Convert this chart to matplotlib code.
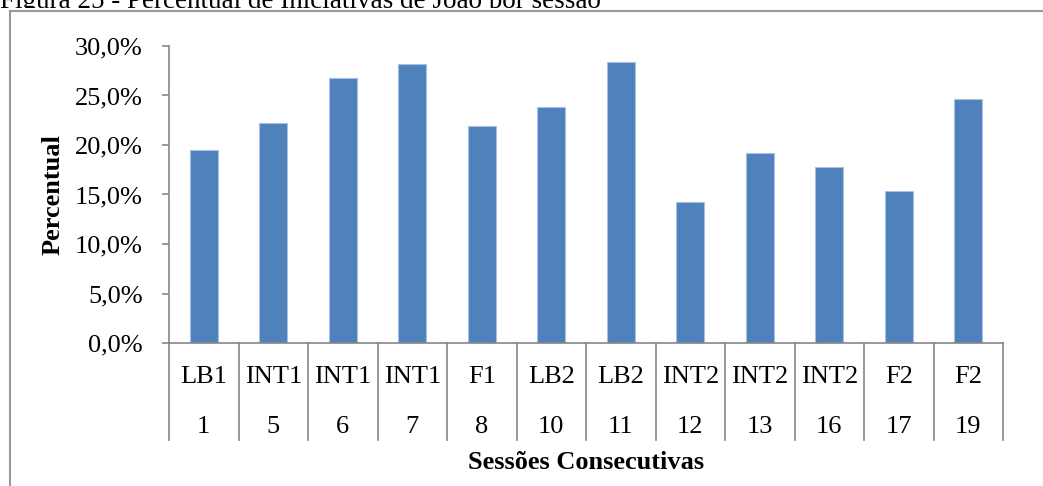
import matplotlib
matplotlib.use('Agg')
import matplotlib.pyplot as plt
from matplotlib.ticker import FuncFormatter, MultipleLocator
from matplotlib.transforms import Bbox

# sessões e percentuais de iniciativas
fases = ['LB1', 'INT1', 'INT1', 'INT1', 'F1', 'LB2', 'LB2', 'INT2', 'INT2', 'INT2', 'F2', 'F2']
sessoes = ['1', '5', '6', '7', '8', '10', '11', '12', '13', '16', '17', '19']
percentual = [19.5, 22.2, 26.8, 28.2, 21.9, 23.8, 28.4, 14.2, 19.2, 17.8, 15.4, 24.6]

plt.rcParams['font.family'] = ['Liberation Serif', 'DejaVu Serif']

W, H = 1043, 486
fig = plt.figure(figsize=(W / 100, H / 100), dpi=100)
ax = fig.add_axes([169 / W, 1 - 343 / H, (1003 - 169) / W, (343 - 46) / H])

cinza = '#868686'
x = list(range(len(percentual)))
ax.bar(x, percentual, width=0.4, color='#4F81BD', edgecolor='#A9C1E0', linewidth=0.8, zorder=2)

ax.set_xlim(-0.5, len(x) - 0.5)
ax.set_ylim(0, 30)
ax.yaxis.set_major_locator(MultipleLocator(5))
ax.yaxis.set_major_formatter(FuncFormatter(lambda v, p: f'{v:.1f}%'.replace('.', ',')))
ax.tick_params(axis='y', length=5, width=1.2, color=cinza, pad=14, labelsize=19)
ax.set_xticks([])

for s in ['top', 'right']:
    ax.spines[s].set_visible(False)
for s in ['left', 'bottom']:
    ax.spines[s].set_color(cinza)
    ax.spines[s].set_linewidth(1.2)

# tabela de rótulos abaixo do eixo x
tr = ax.get_xaxis_transform()
for i in range(len(x) + 1):
    ax.plot([i - 0.5, i - 0.5], [0, -0.327], transform=tr, color=cinza,
            linewidth=1.2, clip_on=False)
for i, (f, s) in enumerate(zip(fases, sessoes)):
    ax.text(i, -0.1145, f, transform=tr, ha='center', va='center', fontsize=19)
    ax.text(i, -0.283, s, transform=tr, ha='center', va='center', fontsize=19)

fig.text(586 / W, 1 - 462 / H, 'Sessões Consecutivas', ha='center', va='center',
         fontsize=19, fontweight='bold')
fig.text(53 / W, 1 - 195 / H, 'Percentual', ha='center', va='center',
         rotation=90, fontsize=19, fontweight='bold')

# moldura externa
fig.add_artist(plt.Line2D([9.5 / W, 9.5 / W], [0, 1 - 11.5 / H], color='#9a9a9a', linewidth=1.5))
fig.add_artist(plt.Line2D([9.5 / W, 1], [1 - 11.5 / H, 1 - 11.5 / H], color='#9a9a9a', linewidth=1.5))

# legenda da figura, cortada no topo
t = fig.text(0, 1 - 8 / H, 'Figura 25 - Percentual de Iniciativas de João por sessão',
             ha='left', va='baseline', fontsize=19.5)
t.set_clip_box(Bbox.from_extents(0, H - 8, W, H))
t.set_clip_on(True)

fig.savefig('out.png', dpi=100)
